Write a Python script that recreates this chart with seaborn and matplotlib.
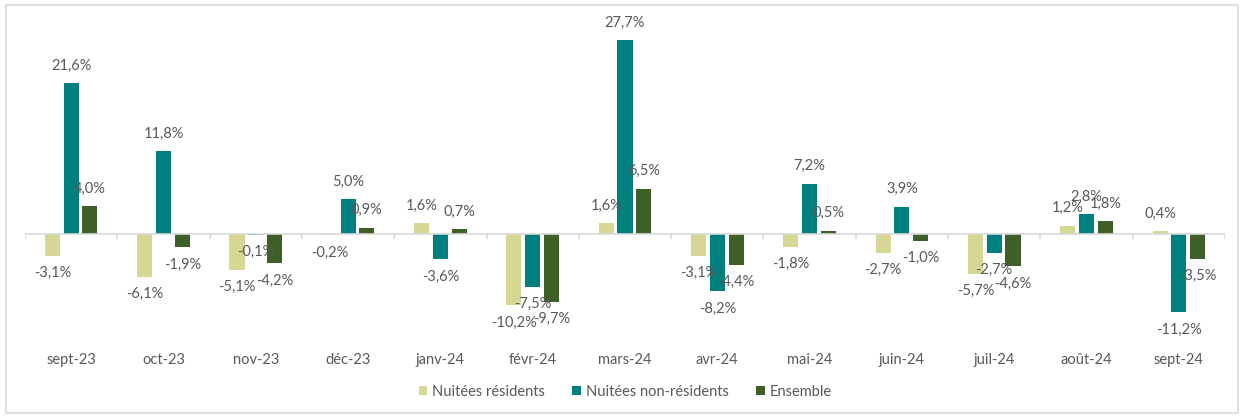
import matplotlib
matplotlib.use("Agg")
import matplotlib.pyplot as plt
import seaborn as sns
import pandas as pd
import numpy as np
from matplotlib.patches import Rectangle

months = ["sept-23", "oct-23", "nov-23", "déc-23", "janv-24", "févr-24", "mars-24",
          "avr-24", "mai-24", "juin-24", "juil-24", "août-24", "sept-24"]
residents = [-3.1, -6.1, -5.1, -0.2, 1.6, -10.2, 1.6, -3.1, -1.8, -2.7, -5.7, 1.2, 0.4]
non_residents = [21.6, 11.8, -0.1, 5.0, -3.6, -7.5, 27.7, -8.2, 7.2, 3.9, -2.7, 2.8, -11.2]
ensemble = [4.0, -1.9, -4.2, 0.9, 0.7, -9.7, 6.5, -4.4, 0.5, -1.0, -4.6, 1.8, -3.5]
series_names = ["Nuitées résidents", "Nuitées non-résidents", "Ensemble"]
colors = ["#D7D795", "#007F7F", "#3E5F25"]

df = pd.DataFrame({
    "mois": months * 3,
    "serie": [series_names[0]] * 13 + [series_names[1]] * 13 + [series_names[2]] * 13,
    "valeur": residents + non_residents + ensemble,
})

sns.set_theme(style="white")
plt.rcParams["font.family"] = ["Lato", "DejaVu Sans"]
text_col = "#595959"

fig = plt.figure(figsize=(12.41, 4.16), dpi=100)
ax = fig.add_axes([25 / 1241, 84 / 416, 1200 / 1241, 315 / 416])

sns.barplot(data=df, x="mois", y="valeur", hue="serie", hue_order=series_names,
            order=months, palette=colors, saturation=1, width=0.61, ax=ax, legend=True,
            edgecolor="none", linewidth=0)

# shrink bars slightly to leave a gap between them
for cont in ax.containers:
    for bar in cont:
        w = bar.get_width()
        bar.set_x(bar.get_x() + w * 0.1)
        bar.set_width(w * 0.8)

ax.set_ylim(-14, 31)
ax.set_xlim(-0.5, len(months) - 0.5)
for s in ax.spines.values():
    s.set_visible(False)
ax.set_yticks([])
ax.set_xlabel("")
ax.set_ylabel("")

# zero line with category boundary ticks
ax.axhline(0, color="#D9D9D9", lw=1.2, zorder=1)
bounds = np.arange(len(months) + 1) - 0.5
ax.vlines(bounds, -0.75, 0, color="#D9D9D9", lw=1.2, zorder=1)

ax.set_xticks(range(len(months)))
ax.set_xticklabels(months, color=text_col, fontsize=10.5)
ax.tick_params(axis="x", length=0, pad=15)

# data labels
for cont in ax.containers:
    for bar, val in zip(cont, cont.datavalues):
        x = bar.get_x() + bar.get_width() / 2
        lbl = f"{val:.1f}%".replace(".", ",")
        off = 12.5 if val >= 0 else -12.5
        ax.annotate(lbl, (x, val), xytext=(0, off), textcoords="offset points",
                    ha="center", va="center", fontsize=10.5, color=text_col)

leg = ax.legend(loc="center", bbox_to_anchor=(0.5, -0.19), ncol=3, frameon=False,
                fontsize=10.5, handlelength=0.6, handleheight=0.6, handletextpad=0.3,
                columnspacing=1.9)
for t in leg.get_texts():
    t.set_color(text_col)

# outer chart frame
fig.patches.append(Rectangle((6 / 1241, 3 / 416), 1232 / 1241, 408 / 416,
                             transform=fig.transFigure, fill=False,
                             edgecolor="#D9D9D9", lw=1.2))

fig.savefig("out.png", dpi=100)
